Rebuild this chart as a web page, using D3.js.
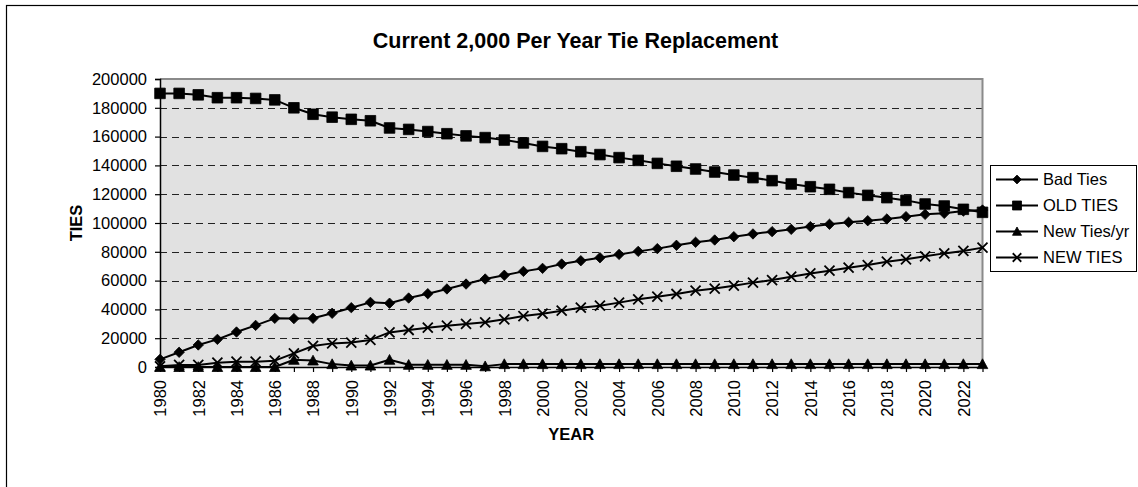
<!DOCTYPE html>
<html>
<head>
<meta charset="utf-8">
<script src="https://cdn.jsdelivr.net/npm/d3@7"></script>
<style>
  html, body { margin: 0; padding: 0; background: #fff; }
  svg { display: block; font-family: "Liberation Sans", Arial, sans-serif; }
</style>
</head>
<body>
<svg id="chart" width="1138" height="487"></svg>
<script>
// Tie inventory, 1980-2023
const years = d3.range(1980, 2024);

const badTies = [
  5300, 10200, 15300, 19200, 24300, 28900, 33800, 33600, 33800, 37300,
  41200, 44900, 44300, 47900, 50900, 54200, 57600, 61100, 63700, 66400,
  68500, 71500, 73800, 75900, 78200, 80300, 82200, 84500, 86600, 88200,
  90500, 92400, 94000, 95600, 97500, 99100, 100500, 101600, 102800, 104400,
  106000, 106700, 108300, 109000
];

const oldTies = [
  190000, 190000, 189000, 187000, 187000, 186500, 185500, 180000, 175500, 173500,
  172000, 171000, 166000, 165000, 163500, 162000, 160500, 159300, 157600, 155600,
  153200, 151600, 149500, 147500, 145400, 143500, 141400, 139400, 137500, 135400,
  133300, 131500, 129400, 127100, 125200, 123400, 121100, 119200, 117600, 115700,
  113200, 111800, 109500, 107400
];

const newTiesPerYear = [
  0, 0, 0, 0, 0, 0, 0, 5000, 4500, 2000,
  1000, 1000, 5000, 1500, 1500, 1500, 1500, 500, 2000, 2000,
  2000, 2000, 2000, 2000, 2000, 2000, 2000, 2000, 2000, 2000,
  2000, 2000, 2000, 2000, 2000, 2000, 2000, 2000, 2000, 2000,
  2000, 2000, 2000, 2000
];

const newTies = [
  500, 1400, 1400, 3000, 3700, 3700, 4400, 9500, 14600, 16400,
  17000, 18800, 24000, 25700, 27300, 28700, 29900, 31000, 33100, 35400,
  37000, 39100, 41200, 42600, 44700, 47000, 48800, 50700, 53000, 54500,
  56500, 58600, 60400, 62700, 65000, 66900, 69000, 70800, 73100, 74800,
  76900, 78900, 80600, 82900
];

const yTicks = [0, 20000, 40000, 60000, 80000, 100000, 120000, 140000, 160000, 180000, 200000];

const seriesNames = ["Bad Ties", "OLD TIES", "New Ties/yr", "NEW TIES"];
const seriesValues = [badTies, oldTies, newTiesPerYear, newTies];
const seriesMarkers = ["diamond", "square", "triangle", "cross"];

const titleText = "Current 2,000 Per Year Tie Replacement";
const xTitle = "YEAR";
const yTitle = "TIES";

// ---- layout ----
const plot = { left: 160, right: 982.5, top: 79, bottom: 367 };
const fontSize = 16.5;

const svg = d3.select("#chart");

// outer chart frame
svg.append("rect")
  .attr("x", 6.5).attr("y", 5.5)
  .attr("width", 1200).attr("height", 600)
  .attr("fill", "#fff").attr("stroke", "#000").attr("stroke-width", 1.2);

const x = d3.scalePoint().domain(years).range([plot.left, plot.right]).padding(0);
const y = d3.scaleLinear().domain([0, 200000]).range([plot.bottom, plot.top]);

// plot background
svg.append("rect")
  .attr("x", plot.left).attr("y", plot.top)
  .attr("width", plot.right - plot.left).attr("height", plot.bottom - plot.top)
  .attr("fill", "#e1e1e1");

// dashed gridlines
svg.append("g")
  .selectAll("line")
  .data(yTicks.filter(d => d > 0 && d < 200000))
  .join("line")
  .attr("x1", plot.left).attr("x2", plot.right)
  .attr("y1", d => Math.round(y(d)) + 0.5).attr("y2", d => Math.round(y(d)) + 0.5)
  .attr("stroke", "#222").attr("stroke-width", 1)
  .attr("stroke-dasharray", "7,5");

// gray frame on top and right
svg.append("path")
  .attr("d", `M${plot.left},${plot.top} H${plot.right} V${plot.bottom}`)
  .attr("fill", "none").attr("stroke", "#8a8a8a").attr("stroke-width", 2);

// y axis
const yAxis = svg.append("g")
  .attr("transform", `translate(${plot.left},0)`)
  .call(d3.axisLeft(y).tickValues(yTicks).tickSize(5).tickPadding(8).tickFormat(d3.format("d")));
yAxis.select(".domain").attr("stroke", "#000").attr("stroke-width", 1.5);
yAxis.selectAll(".tick line").attr("stroke", "#000").attr("stroke-width", 1.2);
yAxis.selectAll("text")
  .attr("font-size", fontSize).attr("fill", "#000")
  .attr("font-family", "Liberation Sans, Arial, sans-serif");

// x axis
const xAxis = svg.append("g")
  .attr("transform", `translate(0,${plot.bottom})`)
  .call(d3.axisBottom(x).tickSize(5).tickSizeOuter(0).tickFormat(d => d % 2 === 0 ? d : ""));
xAxis.select(".domain").attr("stroke", "#000").attr("stroke-width", 1.5);
xAxis.selectAll(".tick line").attr("stroke", "#000").attr("stroke-width", 1.2);
xAxis.selectAll("text")
  .attr("font-size", fontSize).attr("fill", "#000")
  .attr("font-family", "Liberation Sans, Arial, sans-serif")
  .attr("transform", "rotate(-90)")
  .attr("text-anchor", "end")
  .attr("x", -13).attr("y", 0).attr("dy", "0.35em");

// marker shapes
function markerPath(type, s) {
  if (type === "diamond") {
    const h = 5.2 * s;
    return `M0,${-h} L${h},0 L0,${h} L${-h},0 Z`;
  }
  if (type === "square") {
    const h = 5.3 * s;
    return `M${-h},${-h} H${h} V${h} H${-h} Z`;
  }
  if (type === "triangle") {
    const w = 5.3 * s, t = 5.3 * s, b = 4.5 * s;
    return `M0,${-t} L${w},${b} L${-w},${b} Z`;
  }
  const h = 5 * s;
  return `M${-h},${-h} L${h},${h} M${h},${-h} L${-h},${h}`;
}

function drawMarker(g, type, s) {
  const p = g.append("path").attr("d", markerPath(type, s));
  if (type === "cross") {
    p.attr("fill", "none").attr("stroke", "#000").attr("stroke-width", 1.8);
  } else {
    p.attr("fill", "#000").attr("stroke", "#000").attr("stroke-width", 0.8);
  }
}

const line = d3.line().x((d, i) => x(years[i])).y(d => y(d));

seriesValues.forEach((vals, si) => {
  const g = svg.append("g");
  g.append("path")
    .datum(vals)
    .attr("d", line)
    .attr("fill", "none").attr("stroke", "#000").attr("stroke-width", 2)
    .attr("stroke-linejoin", "round");
  vals.forEach((v, i) => {
    const mg = g.append("g").attr("transform", `translate(${x(years[i])},${y(v)})`);
    drawMarker(mg, seriesMarkers[si], 1);
  });
});

// title
svg.append("text")
  .attr("x", 575.5).attr("y", 48)
  .attr("text-anchor", "middle")
  .attr("font-size", 21.5).attr("font-weight", "bold")
  .text(titleText);

// axis titles
svg.append("text")
  .attr("transform", `translate(82,${(plot.top + plot.bottom) / 2}) rotate(-90)`)
  .attr("text-anchor", "middle")
  .attr("font-size", fontSize).attr("font-weight", "bold")
  .text(yTitle);

svg.append("text")
  .attr("x", (plot.left + plot.right) / 2).attr("y", 440)
  .attr("text-anchor", "middle")
  .attr("font-size", fontSize).attr("font-weight", "bold")
  .text(xTitle);

// legend
const legend = svg.append("g");
legend.append("rect")
  .attr("x", 990.5).attr("y", 165.5)
  .attr("width", 146).attr("height", 106)
  .attr("fill", "#fff").attr("stroke", "#000").attr("stroke-width", 1);

seriesNames.forEach((name, i) => {
  const cy = 179.5 + i * 26;
  legend.append("line")
    .attr("x1", 996).attr("x2", 1038)
    .attr("y1", cy).attr("y2", cy)
    .attr("stroke", "#000").attr("stroke-width", 2);
  const mg = legend.append("g").attr("transform", `translate(1017,${cy})`);
  drawMarker(mg, seriesMarkers[i], 0.85);
  legend.append("text")
    .attr("x", 1043).attr("y", cy).attr("dy", "0.36em")
    .attr("font-size", fontSize)
    .text(name);
});
</script>
</body>
</html>
